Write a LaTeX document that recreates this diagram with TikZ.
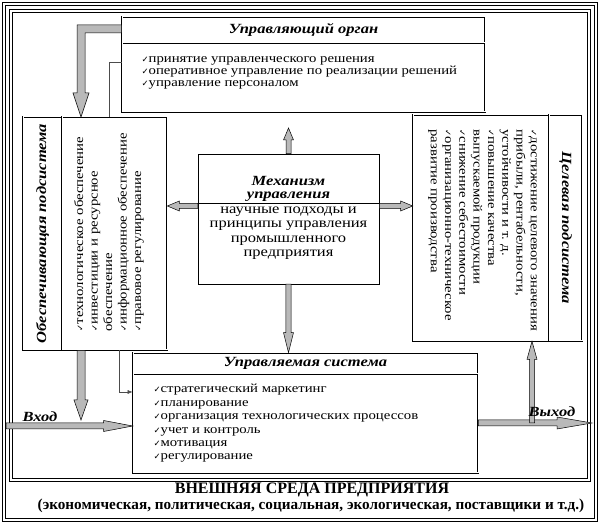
\documentclass[tikz,border=0pt]{standalone}
\usepackage{fontspec}
\setmainfont{Liberation Serif}
\newfontfamily\dejavu{DejaVu Sans}
\newfontfamily\widefont[FakeStretch=1.18]{Liberation Serif}
\usetikzlibrary{calc, arrows.meta}

\newcommand{\chk}{{\dejavu\fontsize{8.5}{8}\selectfont ✓}}
\newcommand{\boxtitle}{\widefont\bfseries\itshape\fontsize{14}{13}\selectfont}
\newcommand{\boxlist}{\widefont\fontsize{12.5}{13.4}\selectfont}
% gray block arrow: from, to, half shaft, half head, head length
\newcommand{\grayarrow}[5]{%
  \coordinate (hb) at ($(#2)!#5!(#1)$);
  \filldraw[garrow] ($(#1)!#3!90:(#2)$) -- ($(hb)!#3!90:(#2)$) -- ($(hb)!#4!90:(#2)$)
    -- (#2) -- ($(hb)!#4!-90:(#2)$) -- ($(hb)!#3!-90:(#2)$) -- ($(#1)!#3!-90:(#2)$) -- cycle;}

\begin{document}
\begin{tikzpicture}[x=1pt, y=1pt,
  dbox/.style={draw, line width=0.7pt, double, double distance=1pt, inner sep=0pt},
  dframe/.style={draw, line width=0.8pt, double, double distance=1.6pt},
  garrow/.style={fill=gray!55, draw=black, line width=0.5pt},
  link/.style={draw=gray!60!black, line width=0.5pt}]
  \useasboundingbox (0,0) rectangle (603,527);
  \draw[dframe] (4,7) rectangle (596,523);
  \draw[dframe] (11,47) rectangle (589,516);

  % управляющий орган
  \node[dbox, minimum width=363pt, minimum height=26pt] (ctrlhead) at (303.5,497) {\boxtitle Управляющий орган};
  \node[dbox, minimum width=363pt, minimum height=69pt] (ctrlbody) at (303.5,449.5) {};
  \node[anchor=west, align=left, font=\widefont\fontsize{12.5}{12}\selectfont] (ctrllist) at (138,454.5)
    {\chk принятие управленческого решения\\ \chk оперативное управление по реализации решений\\ \chk управление персоналом};

  % обеспечивающая подсистема
  \node[dbox, minimum width=39pt, minimum height=233pt] (supttl) at (42.5,293.5) {};
  \node[dbox, minimum width=105pt, minimum height=233pt] (suplist) at (114.5,293.5) {};
  \node[rotate=90, font=\boxtitle] at (supttl.center) {Обеспечивающая подсистема};
  \node[rotate=90, anchor=west, align=left, font=\widefont\fontsize{12.5}{14.5}\selectfont] (suptext) at (109,192)
    {\chk технологическое обеспечение\\ \chk инвестиции и ресурсное\\ обеспечение\\ \chk информационное обеспечение\\ \chk правовое регулирование};

  % целевая подсистема
  \node[dbox, minimum width=136pt, minimum height=226pt] (goallist) at (481,299) {};
  \node[dbox, minimum width=33pt, minimum height=226pt] (goalttl) at (565.5,299) {};
  \node[rotate=-90, font=\boxtitle] at (goalttl.center) {Целевая подсистема};
  \node[rotate=-90, anchor=west, align=left, font=\widefont\fontsize{12.5}{14.3}\selectfont] (goaltext) at (482.5,401)
    {\chk достижение целевого значения\\ прибыли, рентабельности,\\ устойчивости и т. д.\\ \chk повышение качества\\
     выпускаемой продукции\\ \chk снижение себестоимости\\ \chk организационно-техническое\\ развитие производства};

  % механизм управления
  \node[draw, line width=0.5pt, minimum width=181pt, minimum height=130pt] (mech) at (288.5,308) {};
  \draw[line width=0.5pt] (mech.west |- 0,324) -- (mech.east |- 0,324);
  \node[align=center, font=\boxtitle] (mechttl) at (288.5,338.5) {Механизм\\управления};
  \node[align=center, font=\widefont\fontsize{14}{14.5}\selectfont] (mechtext) at (288.5,294)
    {научные подходы и\\ принципы управления\\ промышленного\\ предприятия};

  % управляемая система
  \node[dbox, minimum width=345pt, minimum height=21pt] (mgdhead) at (305.5,163.5) {\boxtitle Управляемая система};
  \node[dbox, minimum width=345pt, minimum height=99pt] (mgdbody) at (305.5,103.5) {};
  \node[anchor=west, align=left, font=\boxlist] (mgdlist) at (150,103.5)
    {\chk стратегический маркетинг\\ \chk планирование\\ \chk организация технологических процессов\\
     \chk учет и контроль\\ \chk мотивация\\ \chk регулирование};

  % внешняя среда
  \node[font=\bfseries\fontsize{16}{16}\selectfont] (env) at (312,37) {ВНЕШНЯЯ СРЕДА ПРЕДПРИЯТИЯ};
  \node[font=\bfseries\fontsize{15.2}{15}\selectfont] (envlist) at (311,21)
    {(экономическая, политическая, социальная, экологическая, поставщики и т.д.)};

  % стрелки
  \filldraw[garrow] (ctrlhead.west |- 0,502) -- (77,502) -- (77,434) -- (73,434) -- (81,410)
    -- (89,434) -- (85,434) -- (85,494) -- (ctrlhead.west |- 0,494) -- cycle;
  \coordinate (upE) at (288.5,399);
  \grayarrow{mech.north}{upE}{2.5pt}{5pt}{12pt}
  \coordinate (mlS) at (mech.west |- 0,321);
  \coordinate (mlE) at (suplist.east |- mlS);
  \grayarrow{mlS}{mlE}{2.5pt}{5pt}{12pt}
  \coordinate (mrS) at (mech.east |- 0,321);
  \coordinate (mrE) at (goallist.west |- mrS);
  \grayarrow{mrS}{mrE}{2.5pt}{5pt}{12pt}
  \coordinate (mdE) at (mech.south |- mgdhead.north);
  \grayarrow{mech.south}{mdE}{2.7pt}{5pt}{20pt}
  \coordinate (ldS) at (suplist.south -| 81,0);
  \coordinate (ldE) at (81,107);
  \grayarrow{ldS}{ldE}{4pt}{7pt}{20pt}
  \coordinate (inS) at (6,101);
  \coordinate (inE) at (mgdbody.west |- inS);
  \grayarrow{inS}{inE}{3pt}{5.5pt}{29pt}
  \coordinate (outS) at (mgdbody.east |- 0,104);
  \coordinate (outE) at (592,104);
  \grayarrow{outS}{outE}{3pt}{6pt}{35pt}
  \coordinate (ugS) at (532,104);
  \coordinate (ugE) at (goallist.south -| ugS);
  \grayarrow{ugS}{ugE}{2.5pt}{5pt}{18pt}
  \node[font=\boxtitle] (inlbl) at (40,110) {Вход};
  \node[font=\boxtitle] (outlbl) at (552,115) {Выход};

  % тонкие связи
  \draw[link] (ctrlbody.west |- 0,465) -| (suplist.north -| 109,0);
  \draw[link, -{Latex[length=5pt, width=4pt]}] (suplist.south -| 119,0) |- (mgdbody.west |- 0,135);
\end{tikzpicture}
\end{document}
